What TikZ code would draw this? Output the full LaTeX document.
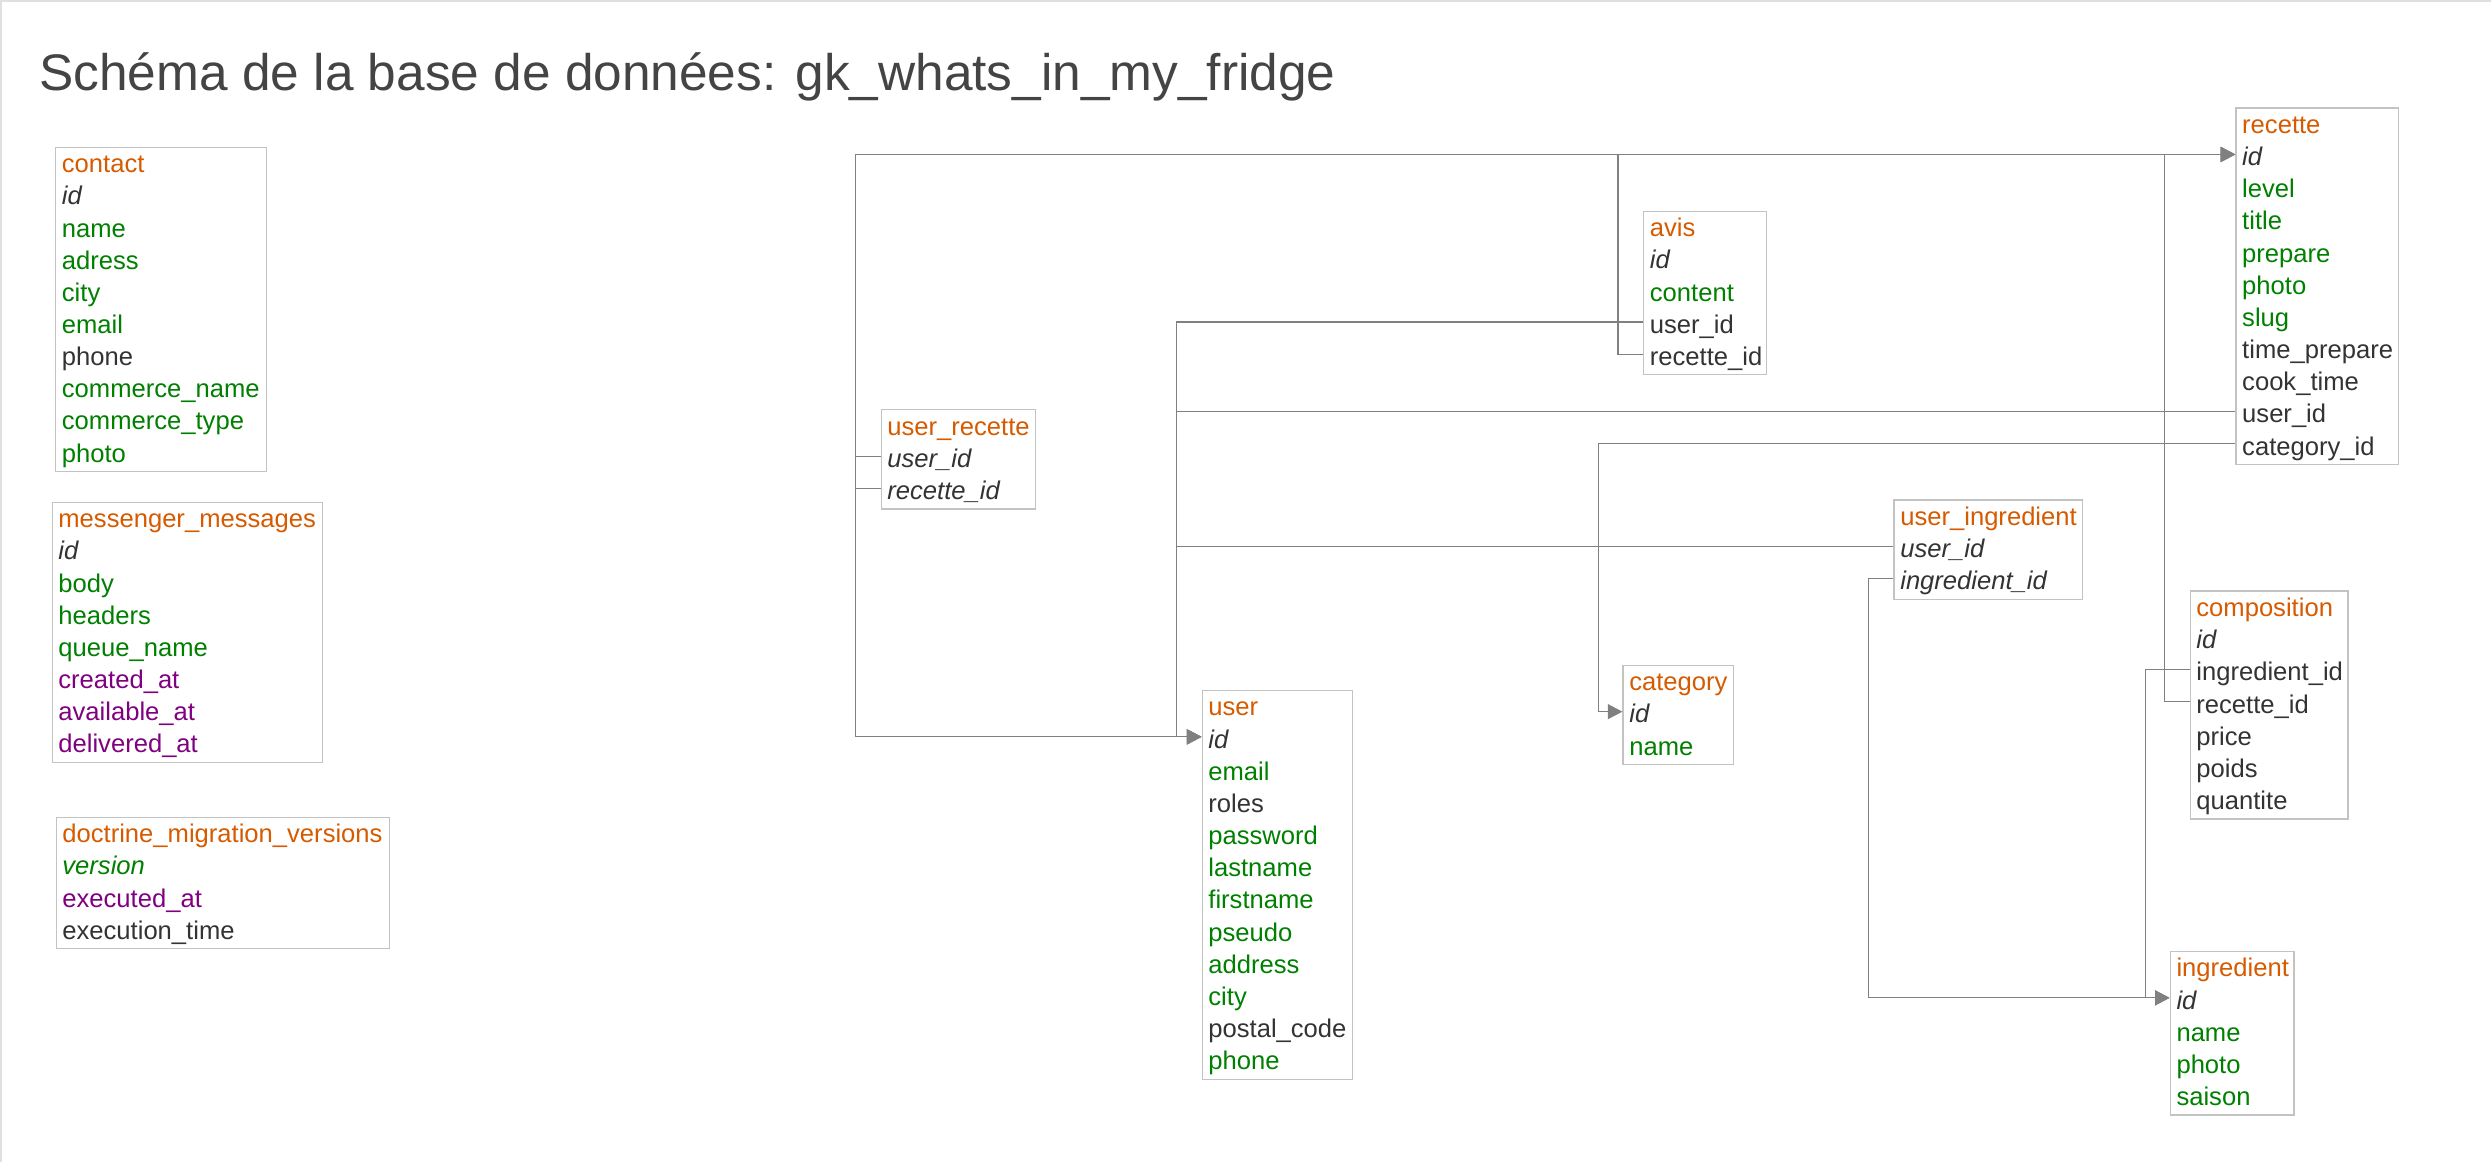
\documentclass[tikz,border=0pt]{standalone}
\usepackage{fontspec}
\setmainfont{Liberation Sans}
\usetikzlibrary{arrows.meta}
\definecolor{tblname}{RGB}{214,90,0}
\definecolor{fgreen}{RGB}{0,128,0}
\definecolor{fpurple}{RGB}{128,0,128}
\definecolor{fdark}{RGB}{51,51,51}
\definecolor{boxline}{RGB}{195,195,195}
\definecolor{linkgray}{RGB}{128,128,128}
\definecolor{titlegray}{RGB}{68,68,68}
\definecolor{pagegray}{RGB}{224,224,224}
\tikzset{
  tbl/.style={draw=boxline, line width=0.6pt, inner sep=0pt, anchor=north west},
  fld/.style={anchor=west, inner sep=0pt, text height=1.334em, text depth=0.21em,
              font=\fontsize{12.8}{15}\selectfont, text=fdark},
  hd/.style={text=tblname},
  pk/.style={font=\fontsize{12.8}{15}\selectfont\itshape},
  gr/.style={text=fgreen},
  pu/.style={text=fpurple},
  dk/.style={},
  pkgr/.style={font=\fontsize{12.8}{15}\selectfont\itshape, text=fgreen},
  link/.style={draw=linkgray, line width=0.6pt},
  ref/.style={link, -{Triangle[length=7.3pt,width=7.5pt]}},
  titlestyle/.style={anchor=base west, inner sep=0pt, text=titlegray,
              font=\fontsize{25.7}{30}\selectfont},
}
% #1 name, #2 left, #3 top, #4 width, #5 rows, #6 fields
\newcommand\dbtable[6]{%
  \node[tbl, minimum width={#4*0.5pt}, minimum height={(#5*32.15+3)*0.5pt}] (#1) at (#2,#3) {};
  \foreach \n/\t/\s [count=\i from 0] in {#6} {
    \node[fld,\s] (#1-\n) at (#2+6.5, #3+15+32.15*\i) {\t};
  }%
}
\begin{document}
\begin{tikzpicture}[x=0.5pt, y=-0.5pt]
\useasboundingbox (0,0) rectangle (2491,1162);
\draw[draw=pagegray, line width=1pt] (1,1162) -- (1,1) -- (2491,1);

\node[titlestyle] (title) at (39,90) {Schéma de la base de données: gk\_whats\_in\_my\_fridge};

\dbtable{contact}{55}{146.5}{210.5}{10}{h/contact/hd, id/id/pk, name/name/gr, adress/adress/gr, city/city/gr, email/email/gr, phone/phone/dk, cname/commerce\_name/gr, ctype/commerce\_type/gr, photo/photo/gr}

\dbtable{mm}{51.5}{501.5}{270}{8}{h/messenger\_messages/hd, id/id/pk, body/body/gr, headers/headers/gr, qname/queue\_name/gr, created/created\_at/pu, available/available\_at/pu, delivered/delivered\_at/pu}

\dbtable{dmv}{55.5}{816.5}{333}{4}{h/doctrine\_migration\_versions/hd, version/version/pkgr, executed/executed\_at/pu, exectime/execution\_time/dk}

\dbtable{ur}{880.5}{409}{154}{3}{h/user\_recette/hd, userid/user\_id/pk, recetteid/recette\_id/pk}

\dbtable{avis}{1643}{210.5}{122.5}{5}{h/avis/hd, id/id/pk, content/content/gr, userid/user\_id/dk, recetteid/recette\_id/dk}

\dbtable{recette}{2235.3}{107.3}{162.4}{11}{h/recette/hd, id/id/pk, level/level/gr, title/title/gr, prepare/prepare/gr, photo/photo/gr, slug/slug/gr, tprep/time\_prepare/dk, cook/cook\_time/dk, userid/user\_id/dk, categoryid/category\_id/dk}

\dbtable{ui}{1893.4}{499.3}{188.2}{3}{h/user\_ingredient/hd, userid/user\_id/pk, ingredientid/ingredient\_id/pk}

\dbtable{comp}{2189.5}{590.4}{157.8}{7}{h/composition/hd, id/id/pk, ingredientid/ingredient\_id/dk, recetteid/recette\_id/dk, price/price/dk, poids/poids/dk, quantite/quantite/dk}

\dbtable{ingredient}{2169.6}{950.7}{123.8}{5}{h/ingredient/hd, id/id/pk, name/name/gr, photo/photo/gr, saison/saison/gr}

\dbtable{user}{1201.5}{689.7}{150}{12}{h/user/hd, id/id/pk, email/email/gr, roles/roles/dk, password/password/gr, lastname/lastname/gr, firstname/firstname/gr, pseudo/pseudo/gr, address/address/gr, city/city/gr, postal/postal\_code/dk, phone/phone/gr}

\dbtable{category}{1622.4}{664.5}{110.2}{3}{h/category/hd, id/id/pk, name/name/gr}

% bus coordinates
\coordinate (xa) at (855.5,0);
\coordinate (xb) at (1176.5,0);
\coordinate (xc) at (1618,0);
\coordinate (xd) at (1598.5,0);
\coordinate (xe) at (1868.5,0);
\coordinate (xf) at (2145.5,0);
\coordinate (xg) at (2164.5,0);

\draw[ref] (ur.west |- ur-userid) -| (xa |- user-id) -- (user.west |- user-id);
\draw[ref] (ur.west |- ur-recetteid) -| (xa |- recette-id) -- (recette.west |- recette-id);
\draw[ref] (avis.west |- avis-userid) -| (xb |- user-id) -- (user.west |- user-id);
\draw[ref] (avis.west |- avis-recetteid) -| (xc |- recette-id) -- (recette.west |- recette-id);
\draw[ref] (recette.west |- recette-userid) -| (xb |- user-id) -- (user.west |- user-id);
\draw[ref] (recette.west |- recette-categoryid) -| (xd |- category-id) -- (category.west |- category-id);
\draw[ref] (ui.west |- ui-userid) -| (xb |- user-id) -- (user.west |- user-id);
\draw[ref] (ui.west |- ui-ingredientid) -| (xe |- ingredient-id) -- (ingredient.west |- ingredient-id);
\draw[ref] (comp.west |- comp-ingredientid) -| (xf |- ingredient-id) -- (ingredient.west |- ingredient-id);
\draw[ref] (comp.west |- comp-recetteid) -| (xg |- recette-id) -- (recette.west |- recette-id);
\end{tikzpicture}
\end{document}
